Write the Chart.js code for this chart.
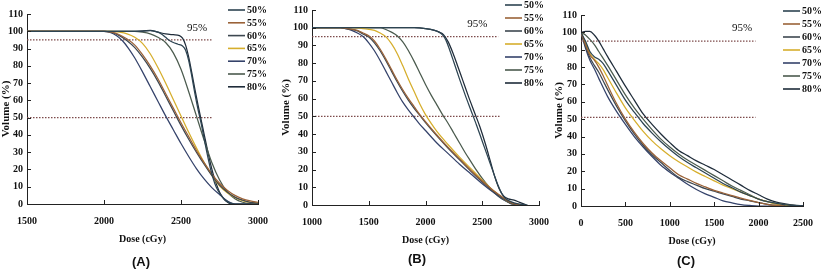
<!DOCTYPE html>
<html><head><meta charset="utf-8">
<script src="https://cdn.jsdelivr.net/npm/chart.js@4/dist/chart.umd.min.js"></script>
<style>
html,body{margin:0;padding:0;background:#fff;}
body{width:824px;height:269px;position:relative;overflow:hidden;}
.pane{position:absolute;top:0;height:269px;}
.tag{position:absolute;top:261px;font:bold 13px "Liberation Sans",Arial,sans-serif;color:#111;transform:translate(-50%,-50%);white-space:nowrap;}
</style></head><body>
<div class="pane" style="left:0;width:290px"><canvas id="cA" width="290" height="269"></canvas></div>
<div class="pane" style="left:270px;width:290px"><canvas id="cB" width="290" height="269"></canvas></div>
<div class="pane" style="left:540px;width:284px"><canvas id="cC" width="284" height="269"></canvas></div>
<div class="tag" style="left:141px">(A)</div>
<div class="tag" style="left:417px;top:258px">(B)</div>
<div class="tag" style="left:686px;top:260px">(C)</div>
<script>
// ---------- data ----------
const seriesLabels = ['50%','55%','60%','65%','70%','75%','80%'];
const xTitle = 'Dose (cGy)';
const yTitle = 'Volume (%)';
const refText = '95%';

// Panel A  [dose cGy, volume %]
const A50 = [[1500,100],[2250,100],[2300,100.4],[2350,99.5],[2380,98],[2400,96.5],[2420,95],[2450,93.5],[2480,92.5],[2510,91.5],[2530,89],[2550,83],[2570,74],[2590,64],[2610,55],[2630,47],[2650,38],[2670,29],[2690,21],[2710,14.5],[2730,9.5],[2760,5],[2790,2],[2820,0.5],[2850,0],[3000,0]];
const A55 = [[1500,100],[2000,100],[2050,99.5],[2100,98],[2150,95.5],[2200,92],[2250,86.5],[2300,80],[2350,72.5],[2400,64],[2450,55.5],[2500,47],[2550,39],[2600,31],[2650,24],[2700,17.5],[2750,12],[2800,8],[2850,5],[2900,3],[2950,1.8],[3000,1]];
const A60 = [[1500,100],[2000,100],[2050,99.3],[2100,97.5],[2150,94.5],[2200,90.5],[2250,85],[2300,78.5],[2350,71],[2400,62.5],[2450,54],[2500,45.5],[2550,37.5],[2600,30],[2650,23],[2700,16.5],[2750,11],[2800,7],[2850,4],[2900,2.2],[2950,1],[3000,0.5]];
const A65 = [[1500,100],[2050,100],[2100,99.5],[2150,98.5],[2200,96.5],[2250,93],[2300,87],[2350,79],[2400,70],[2450,60.5],[2500,51],[2550,41.5],[2600,32.5],[2650,24],[2700,16.5],[2750,10.5],[2800,6.5],[2850,3.8],[2900,2],[2950,1],[3000,0.5]];
const A70 = [[1500,100],[2000,100],[2040,99.3],[2080,97.5],[2120,94.5],[2160,90],[2200,84.5],[2250,76.5],[2300,68],[2350,59.5],[2400,51],[2450,43],[2500,35],[2550,27.5],[2600,20.5],[2650,14.5],[2700,9.5],[2750,5.5],[2790,2.5],[2820,0.8],[2850,0],[3000,0]];
const A75 = [[1500,100],[2200,100],[2250,99.5],[2300,98.5],[2350,96.5],[2400,93.5],[2450,87.5],[2500,78],[2550,65],[2600,51],[2650,37],[2700,24],[2750,14],[2800,7],[2850,3],[2900,1],[2950,0.2],[3000,0]];
const A80 = [[1500,100],[2200,100],[2300,100.5],[2350,99.5],[2400,98.5],[2450,98],[2490,97.5],[2510,96],[2530,92],[2550,85],[2570,76],[2590,66.5],[2610,57.5],[2630,49],[2650,40.5],[2670,32],[2690,24],[2710,17],[2730,11.5],[2750,7],[2770,4],[2790,1.8],[2815,0.3],[2840,0],[3000,0]];

// Panel B
const B50 = [[1000,100],[1900,100],[2000,99.5],[2080,98.5],[2120,97.5],[2150,96],[2180,93],[2210,88],[2250,80.5],[2300,71],[2350,62],[2400,53.5],[2450,45],[2500,36],[2550,27],[2600,18],[2640,11],[2680,5.5],[2720,3],[2780,1.2],[2850,0.3],[2900,0]];
const B55 = [[1000,100],[1250,100],[1300,99.6],[1400,98.5],[1450,97],[1500,95.5],[1550,92.5],[1600,88],[1650,82.5],[1700,76.5],[1750,70.5],[1800,65],[1850,60],[1900,55.5],[1950,51],[2000,47],[2100,39.5],[2200,32.5],[2300,26],[2400,19.5],[2500,13.5],[2600,8],[2700,3.5],[2750,1.5],[2800,0.5],[2850,0]];
const B60 = [[1000,100],[1250,100],[1300,99.5],[1400,98.2],[1450,96.5],[1500,94.8],[1550,91.5],[1600,87],[1650,81.5],[1700,75.5],[1750,69.5],[1800,64],[1850,59],[1900,54.5],[1950,50.5],[2000,46.5],[2100,39],[2200,32],[2300,25.5],[2400,19],[2500,13],[2600,7.5],[2700,3],[2750,1],[2800,0]];
const B65 = [[1000,100],[1350,100],[1450,99.5],[1550,98.5],[1600,97],[1650,95],[1700,91],[1750,85.5],[1800,78.5],[1850,71],[1900,64],[1950,57],[2000,51],[2050,46],[2100,41.5],[2200,34],[2300,27],[2400,20.5],[2500,14],[2600,8],[2700,3],[2750,1],[2800,0]];
const B70 = [[1000,100],[1250,100],[1300,99.5],[1350,98.5],[1400,97],[1450,95],[1500,91.5],[1550,87],[1600,81.5],[1650,75.5],[1700,69.5],[1750,63.5],[1800,58],[1850,53.5],[1900,49.5],[1950,45.5],[2000,42],[2100,35],[2200,29],[2300,23],[2400,17.5],[2500,12],[2600,7],[2700,2.5],[2750,0.8],[2800,0]];
const B75 = [[1000,100],[1600,100],[1650,99],[1700,97.5],[1750,95.5],[1800,92],[1850,87],[1900,81],[1950,74.5],[2000,68],[2050,62],[2100,56.5],[2150,51],[2200,46],[2250,40.5],[2300,35],[2350,29.5],[2400,24.5],[2450,19.5],[2500,15],[2550,11],[2600,7.5],[2650,4.5],[2700,2.5],[2750,1],[2800,0.3],[2850,0]];
const B80 = [[1000,100],[1900,100],[2000,99.5],[2080,98.5],[2120,97.5],[2160,96],[2200,92],[2240,86],[2280,79],[2330,70],[2380,61],[2430,52.5],[2480,44],[2530,34],[2570,25],[2610,16],[2650,9],[2690,5],[2730,3.5],[2780,2.8],[2830,1.5],[2890,0]];

// Panel C
const C50 = [[0,100],[50,95],[100,89],[150,86],[200,84.5],[250,82],[300,78],[400,69.5],[500,61],[600,54],[700,47.5],[800,42],[900,37],[1000,32.5],[1100,28.5],[1200,25],[1300,22],[1400,19],[1500,16],[1600,13],[1700,10.5],[1800,8],[1900,6],[2000,4],[2100,2.5],[2200,1.5],[2300,0.7],[2400,0.2],[2500,0]];
const C55 = [[0,100],[50,93],[100,87],[150,84],[200,80],[250,75],[300,69.5],[400,59],[500,50],[600,42.5],[700,36],[800,30.5],[900,26],[1000,22],[1100,18],[1200,15.5],[1300,13],[1400,11],[1500,9],[1600,7.5],[1700,6],[1800,4.5],[1900,3.2],[2000,2],[2100,1],[2200,0.3],[2300,0]];
const C60 = [[0,100],[50,92],[100,85.5],[150,81],[200,77],[250,72],[300,67],[400,57.5],[500,49],[600,41.5],[700,35],[800,29.5],[900,25],[1000,20.5],[1100,16.5],[1200,14],[1300,12],[1400,10],[1500,8.5],[1600,7],[1700,5.5],[1800,4],[1900,3],[2000,2],[2100,1],[2200,0.3],[2300,0]];
const C65 = [[0,100],[50,94],[100,88],[150,84.5],[200,82],[250,78.5],[300,74],[400,65],[500,56.5],[600,49.5],[700,43],[800,37.5],[900,33],[1000,29],[1100,25.5],[1200,22.5],[1300,19.5],[1400,17],[1500,14.5],[1600,12],[1700,10],[1800,8],[1900,6],[2000,4],[2100,2.5],[2200,1],[2300,0.3],[2400,0]];
const C70 = [[0,100],[50,91],[100,84],[150,79],[200,73.5],[300,63],[400,54.5],[500,47],[600,40],[700,34],[800,28.5],[900,23.5],[1000,19.5],[1100,16],[1200,12.5],[1300,9.5],[1400,7],[1500,5],[1600,3],[1700,1.8],[1800,0.8],[1900,0.3],[2000,0],[2500,0]];
const C75 = [[0,100],[50,98.5],[100,96],[150,93],[200,89],[300,81],[400,72.5],[500,64],[600,56.5],[700,50],[800,44],[900,38.5],[1000,34],[1100,30],[1200,26.5],[1300,23.5],[1400,20.5],[1500,17.5],[1600,14.5],[1700,11.5],[1800,9],[1900,6.5],[2000,4],[2100,2.5],[2200,1.5],[2300,0.8],[2400,0.3],[2500,0]];
const C80 = [[0,100],[50,100.5],[100,100.5],[150,98.5],[200,95],[250,90.5],[300,86],[400,77.5],[500,69],[600,61],[700,53],[800,47],[900,41.5],[1000,36.5],[1100,32],[1200,29],[1300,26],[1400,23.5],[1500,21],[1600,18],[1700,15],[1800,12],[1900,9],[2000,6.5],[2100,4],[2200,2.2],[2300,1.2],[2400,0.5],[2500,0.1]];

// axes ranges and reference levels
const xRangeA = [1500, 3000], xRangeB = [1000, 3000], xRangeC = [0, 2500];
const yRange = [0, 110];
const xStep = 500, yStep = 10;
const refA = [[1500, 2705, 95], [1500, 2705, 50]];
const refB = [[1000, 2640, 95], [1000, 2655, 50]];
const refC = [[0, 1965, 95], [0, 1965, 51]];
const refLabelA = [2604, 102], refLabelB = [2456, 102], refLabelC = [1815, 102.5];

// ---------- styles ----------
const colors = ['#2d4452', '#9a6238', '#3d4750', '#d6ae2c', '#34426a', '#4b5b4e', '#1f2c3a'];
const serif = '"Liberation Serif","Times New Roman",serif';

const inwardTicks = {
  id: 'inwardTicks',
  afterDraw(chart) {
    const ctx = chart.ctx, xs = chart.scales.x, ys = chart.scales.y;
    ctx.save(); ctx.strokeStyle = '#222'; ctx.lineWidth = 1;
    xs.ticks.forEach(t => { const p = Math.round(xs.getPixelForValue(t.value)) + 0.5;
      ctx.beginPath(); ctx.moveTo(p, ys.bottom); ctx.lineTo(p, ys.bottom - 4); ctx.stroke(); });
    ys.ticks.forEach(t => { const p = Math.round(ys.getPixelForValue(t.value)) + 0.5;
      ctx.beginPath(); ctx.moveTo(xs.left, p); ctx.lineTo(xs.left + 4, p); ctx.stroke(); });
    ctx.restore();
  }
};

function makeChart(id, series, xr, refs, refLabel, lay) {
  const datasets = series.map((d, i) => ({
    label: seriesLabels[i], data: d, borderColor: colors[i], borderWidth: 1.25,
    pointRadius: 0, cubicInterpolationMode: 'monotone', fill: false, order: 1
  }));
  refs.forEach(r => datasets.push({
    label: '', data: [[r[0], r[2]], [r[1], r[2]]], borderColor: '#7d4b4b', borderWidth: 1.2,
    borderDash: [1.5, 1.5], pointRadius: 0, fill: false, order: 2
  }));
  const legendPlug = {
    id: 'customLegend',
    afterDraw(chart) {
      const ctx = chart.ctx;
      ctx.save();
      ctx.font = 'bold 10px ' + serif; ctx.fillStyle = '#111'; ctx.textBaseline = 'middle';
      seriesLabels.forEach((lab, i) => {
        const y = lay.legY + i * lay.legDy;
        ctx.strokeStyle = colors[i]; ctx.lineWidth = 1.6;
        ctx.beginPath(); ctx.moveTo(lay.legX, y); ctx.lineTo(lay.legX + 17, y); ctx.stroke();
        ctx.fillText(lab, lay.legX + 19, y + 0.5);
      });
      const xs = chart.scales.x, ys = chart.scales.y;
      ctx.font = '11px ' + serif; ctx.textAlign = 'center';
      ctx.fillText(refText, xs.getPixelForValue(refLabel[0]), ys.getPixelForValue(refLabel[1]));
      ctx.restore();
    }
  };
  const tickFont = { family: serif, size: 10, weight: 'bold' };
  return new Chart(document.getElementById(id), {
    type: 'line',
    data: { datasets },
    options: {
      responsive: false, animation: false, devicePixelRatio: 1,
      layout: { padding: { left: lay.padL, top: lay.padT, right: lay.padR, bottom: lay.padB } },
      plugins: { legend: { display: false }, tooltip: { enabled: false } },
      scales: {
        x: {
          type: 'linear', min: xr[0], max: xr[1],
          afterFit: s => { s.height = lay.xH; },
          afterBuildTicks: s => { s.ticks = []; for (let v = xr[0]; v <= xr[1]; v += xStep) s.ticks.push({ value: v }); },
          ticks: { stepSize: xStep, padding: 11, color: '#111', font: tickFont, maxRotation: 0, callback: v => String(v) },
          grid: { display: false, drawTicks: false },
          border: { display: true, color: '#222', width: 1 },
          title: { display: true, text: xTitle, color: '#111', padding: 0, font: { family: serif, size: 10, weight: 'bold' } }
        },
        y: {
          min: yRange[0], max: yRange[1],
          afterFit: s => { s.width = lay.yW; },
          ticks: { stepSize: yStep, padding: 4, color: '#111', font: tickFont, callback: v => String(v) },
          grid: { display: false, drawTicks: false },
          border: { display: true, color: '#222', width: 1 },
          title: { display: true, text: yTitle, color: '#111', padding: 0, font: { family: serif, size: 11, weight: 'bold' } }
        }
      }
    },
    plugins: [inwardTicks, legendPlug]
  });
}

makeChart('cA', [A50, A55, A60, A65, A70, A75, A80], xRangeA, refA, refLabelA,
  { padL: 0, yW: 27, padT: 14, padR: 32, xH: 41, padB: 24, legX: 228, legY: 10, legDy: 12.8 });
makeChart('cB', [B50, B55, B60, B65, B70, B75, B80], xRangeB, refB, refLabelB,
  { padL: 10, yW: 32, padT: 10, padR: 20, xH: 41, padB: 23, legX: 235, legY: 5, legDy: 13 });
makeChart('cC', [C50, C55, C60, C65, C70, C75, C80], xRangeC, refC, refLabelC,
  { padL: 13, yW: 28, padT: 15, padR: 13, xH: 41, padB: 22, legX: 243, legY: 11, legDy: 13 });
</script>
</body></html>
